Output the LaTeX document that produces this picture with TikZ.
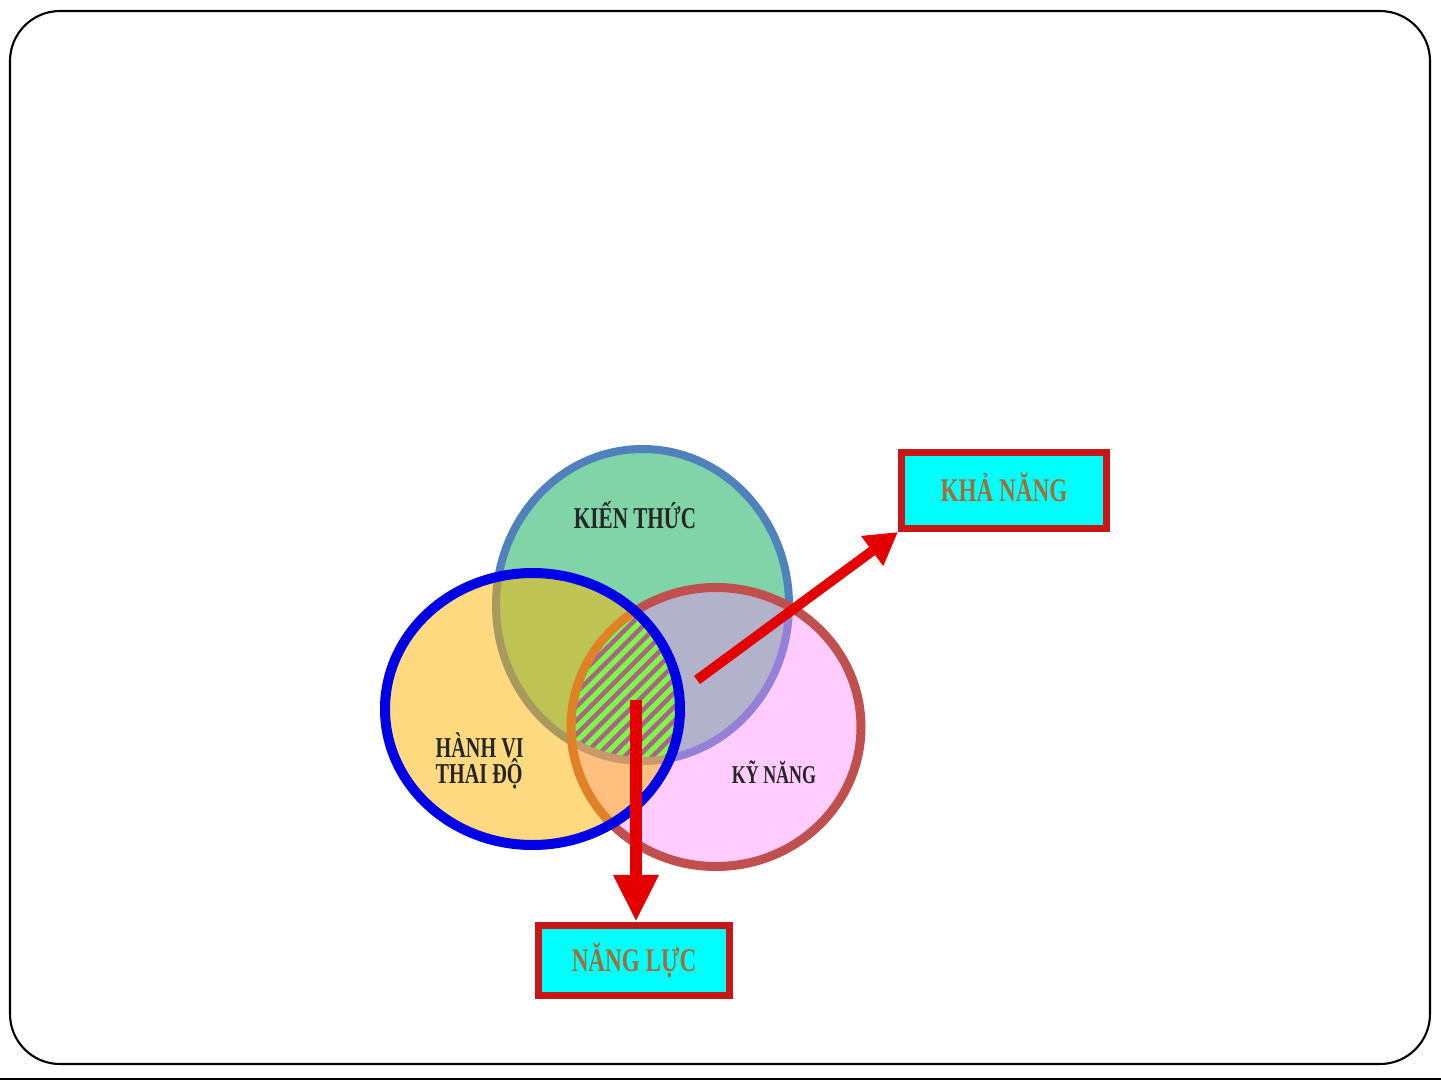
\documentclass[tikz,border=0pt]{standalone}
\usepackage{fontspec}
\setmainfont{Liberation Serif}
\newfontfamily\vnfont[FakeStretch=0.7]{Liberation Serif}
\usetikzlibrary{arrows.meta, positioning}

\definecolor{kienfill}{RGB}{128,212,168}
\definecolor{kienline}{RGB}{79,129,189}
\definecolor{kyfill}{RGB}{255,128,255}
\definecolor{kyline}{RGB}{192,80,77}
\definecolor{hanhfill}{RGB}{255,179,0}
\definecolor{hanhline}{RGB}{0,0,230}
\definecolor{hatchgreen}{RGB}{125,245,75}
\definecolor{hatchmauve}{RGB}{168,102,128}
\definecolor{arrowred}{RGB}{228,0,0}
\definecolor{boxline}{RGB}{200,22,22}
\definecolor{boxfill}{RGB}{0,255,255}
\definecolor{boxtext}{RGB}{165,108,52}

% the three sets (centre line of each border)
\def\kienthuc{(642.5,605) ellipse [x radius=146.5, y radius=156]}
\def\kynang{(716,727) ellipse [x radius=145, y radius=139.5]}
\def\hanhvi{(532.5,709) ellipse [x radius=147.5, y radius=136]}

\begin{document}
\begin{tikzpicture}[
    x=0.01cm, y=-0.01cm,
    vennlabel/.style={font=\vnfont\bfseries\fontsize{8.6}{9}\selectfont, text=black!85, inner sep=0pt},
    resultbox/.style={rectangle, draw=boxline, fill=boxfill, line width=0.7mm, inner sep=0pt,
        font=\vnfont\bfseries\fontsize{9.4}{10}\selectfont, text=boxtext, text height=6.2pt, text depth=0pt},
    arrow/.style={arrowred, -{Triangle[length=3.2mm, width=3.5mm]}, line width=1mm},
    bigarrow/.style={arrowred, -{Triangle[length=4.7mm, width=4.2mm]}, line width=1.2mm},
    stripe/.style={hatchgreen, line width=0.5mm}
]
\useasboundingbox (0,0) rectangle (1441,1081);

% ============ FRAME ============
\draw[line width=0.6pt, rounded corners=5mm] (10,11) rectangle (1430,1064);
\draw[line width=0.6pt] (0,1079) -- (1441,1079);

% ============ VENN SETS ============
\fill[kienfill] \kienthuc;
\draw[kienline, line width=0.8mm] \kienthuc;
\fill[kyfill, fill opacity=0.4] \kynang;
\draw[kyline, line width=0.9mm] \kynang;
\fill[hanhfill, fill opacity=0.5] \hanhvi;

% hatched common part
\begin{scope}
    \clip (642.5,605) ellipse [x radius=142.5, y radius=152];
    \clip (716,727) ellipse [x radius=140.5, y radius=135];
    \clip (532.5,709) ellipse [x radius=142.5, y radius=131];
    \fill[hatchmauve] (560,600) rectangle (700,780);
    \foreach \c in {1150,1164,...,1480}
        \draw[stripe] (\c-800,800) -- (\c-600,600);
\end{scope}

\draw[hanhline, line width=1mm] \hanhvi;

% ============ LABELS ============
\node[vennlabel, anchor=base] (kienlabel) at (635,528) {KIẾN THỨC};
\node[vennlabel, font=\vnfont\bfseries\fontsize{8.2}{8}\selectfont, anchor=base west] (hanhlabel) at (435,757) {HÀNH VI};
\node[vennlabel, font=\vnfont\bfseries\fontsize{8.2}{8}\selectfont, anchor=base west] (thaidolabel) at ([yshift=-2.6mm]hanhlabel.base west) {THAI ĐỘ};
\node[vennlabel, font=\vnfont\bfseries\fontsize{7.3}{8}\selectfont, anchor=base] (kylabel) at (774,783) {KỸ NĂNG};

% ============ RESULTS ============
\node[resultbox, minimum width=2.05cm, minimum height=0.76cm] (khanang) at (1004,490.5) {KHẢ NĂNG};
\node[resultbox, minimum width=1.91cm, minimum height=0.70cm] (nangluc) at (634,960.5) {NĂNG LỰC};

% ============ ARROWS ============
\coordinate (kystart) at (697,680);
\coordinate (hatchstart) at (636,700);
\draw[arrow] (kystart) -- (khanang.south west);
\draw[bigarrow] (hatchstart) -- (hatchstart |- nangluc.north);

\end{tikzpicture}
\end{document}
